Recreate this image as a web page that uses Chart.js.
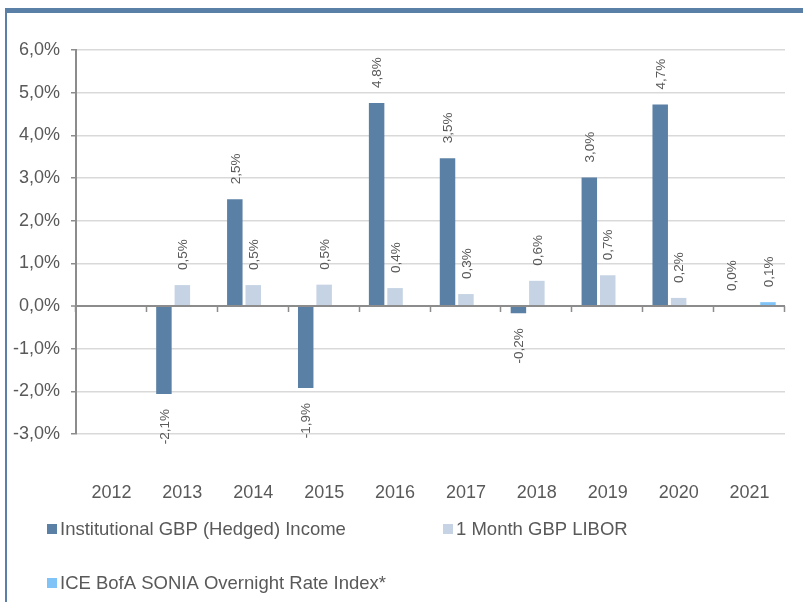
<!DOCTYPE html>
<html>
<head>
<meta charset="utf-8">
<script src="https://cdn.jsdelivr.net/npm/chart.js@4/dist/chart.umd.min.js"></script>
<style>
  html, body { margin: 0; padding: 0; background: #ffffff; }
  #wrap { position: relative; width: 803px; height: 602px; overflow: hidden; }
  #frame { position: absolute; left: 5px; top: 8px; width: 798px; height: 594px;
           border-top: 5px solid #5b80a8; border-left: 2px solid #5b80a8; box-sizing: border-box; }
  #c { position: absolute; left: 0; top: 0; }
</style>
</head>
<body>
<div id="wrap">
  <div id="frame"></div>
  <canvas id="c" width="803" height="602"></canvas>
</div>
<script>
// ---- data ----
const years = ['2012', '2013', '2014', '2015', '2016', '2017', '2018', '2019', '2020', '2021'];
const institutional = [null, -2.06, 2.5, -1.92, 4.76, 3.46, -0.17, 3.01, 4.72, 0.0];
const libor = [null, 0.49, 0.49, 0.5, 0.42, 0.28, 0.59, 0.72, 0.19, null];
const sonia = [null, null, null, null, null, null, null, null, null, 0.09];
const seriesNames = ['Institutional GBP (Hedged) Income', '1 Month GBP LIBOR', 'ICE BofA SONIA Overnight Rate Index*'];
const yTicks = { min: -3, max: 6, step: 1 };

const FONT = "'Liberation Sans', Arial, sans-serif";
const TEXT = '#595959';
const AXIS = '#8c8c8c';
const GRID = '#d9d9d9';
const fmt = v => v.toFixed(1).replace('.', ',') + '%';

const zeroAxisPlugin = {
  id: 'zeroAxis',
  afterDatasetsDraw(chart) {
    const { ctx, chartArea, scales: { x, y } } = chart;
    const y0 = y.getPixelForValue(0);
    ctx.save();
    ctx.strokeStyle = AXIS;
    ctx.lineWidth = 2;
    ctx.beginPath();
    ctx.moveTo(chartArea.left, y0);
    ctx.lineTo(chartArea.right, y0);
    ctx.stroke();
    ctx.lineWidth = 1.5;
    ctx.beginPath();
    for (let i = 0; i <= years.length; i++) {
      const px = Math.round(x.getPixelForValue(i - 0.5)) - 0.5;
      ctx.moveTo(px, y0);
      ctx.lineTo(px, y0 + 6);
    }
    ctx.stroke();
    ctx.restore();
  }
};

const labelPlugin = {
  id: 'rotLabels',
  afterDatasetsDraw(chart) {
    const { ctx } = chart;
    ctx.save();
    ctx.fillStyle = TEXT;
    ctx.font = '13.5px ' + FONT;
    ctx.textBaseline = 'middle';
    chart.data.datasets.forEach((ds, di) => {
      const meta = chart.getDatasetMeta(di);
      meta.data.forEach((el, i) => {
        const v = ds.data[i];
        if (v === null || v === undefined) return;
        ctx.save();
        if (v >= 0) {
          ctx.translate(el.x, el.y - 15);
          ctx.rotate(-Math.PI / 2);
          ctx.textAlign = 'left';
        } else {
          ctx.translate(el.x, el.y + 15);
          ctx.rotate(-Math.PI / 2);
          ctx.textAlign = 'right';
        }
        ctx.fillText(fmt(v), 0, 1);
        ctx.restore();
      });
    });
    ctx.restore();
  }
};

const legendPlugin = {
  id: 'customLegend',
  afterDraw(chart) {
    const { ctx } = chart;
    const spots = [[47, 529], [443, 529], [47, 583]];
    ctx.save();
    ctx.font = '18.5px ' + FONT;
    ctx.textBaseline = 'middle';
    ctx.textAlign = 'left';
    chart.data.datasets.forEach((ds, i) => {
      const [lx, ly] = spots[i];
      ctx.fillStyle = ds.backgroundColor;
      ctx.fillRect(lx, ly - 5, 10, 10);
      ctx.fillStyle = TEXT;
      ctx.fillText(ds.label, lx + 13, ly + 1);
    });
    ctx.restore();
  }
};

new Chart(document.getElementById('c'), {
  type: 'bar',
  data: {
    labels: years,
    datasets: [
      { label: seriesNames[0], data: institutional, backgroundColor: '#5b80a5' },
      { label: seriesNames[1], data: libor, backgroundColor: '#c5d3e4' },
      { label: seriesNames[2], data: sonia, backgroundColor: '#80c4f7' }
    ]
  },
  options: {
    responsive: false,
    devicePixelRatio: 1,
    animation: false,
    categoryPercentage: 0.78,
    barPercentage: 0.84,
    layout: { padding: { top: 50, right: 18, left: 0, bottom: 0 } },
    plugins: { legend: { display: false }, tooltip: { enabled: false } },
    scales: {
      x: {
        grid: { display: false, drawTicks: false },
        border: { display: false },
        ticks: { color: TEXT, font: { family: FONT, size: 18 }, padding: 48, maxRotation: 0 },
        afterFit(s) { s.height = 168; s.paddingLeft = 0; s.paddingRight = 0; }
      },
      y: {
        min: yTicks.min, max: yTicks.max,
        ticks: { stepSize: yTicks.step, color: TEXT, font: { family: FONT, size: 18 }, padding: 11,
                 callback: v => fmt(v) },
        grid: {
          color: c => (c.tick && c.tick.value === 0) ? AXIS : GRID,
          lineWidth: c => (c.tick && c.tick.value === 0) ? 2 : 1.5,
          tickColor: AXIS, tickLength: 5, tickWidth: 1.5
        },
        border: { color: AXIS, width: 2 },
        afterFit(s) { s.width = 76; s.paddingTop = 0; s.paddingBottom = 0; }
      }
    }
  },
  plugins: [zeroAxisPlugin, labelPlugin, legendPlugin]
});
</script>
</body>
</html>
